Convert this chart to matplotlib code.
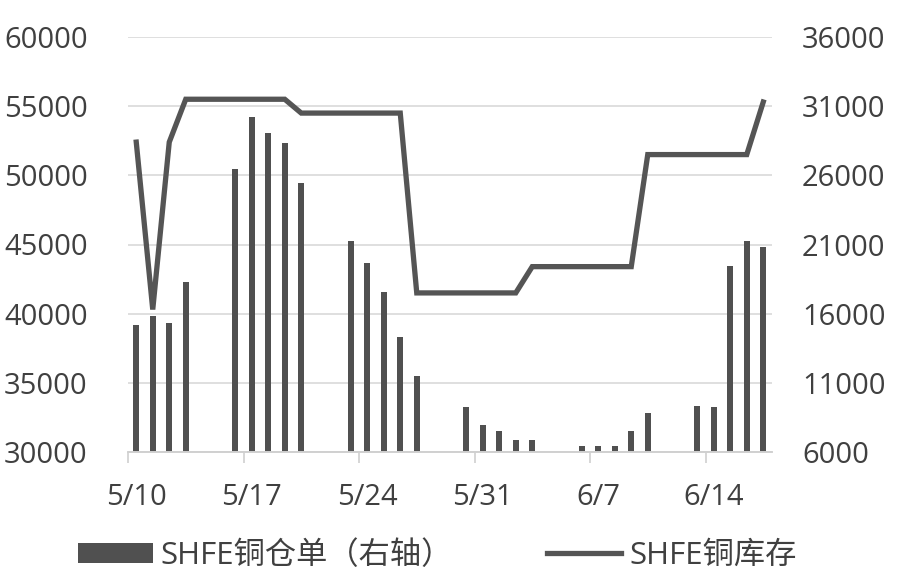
import matplotlib
matplotlib.use("Agg")
import matplotlib.pyplot as plt
from matplotlib.patches import Patch
from matplotlib.lines import Line2D
import pandas as pd

plt.rcParams['font.family'] = ['Open Sans', 'Noto Sans CJK SC', 'DejaVu Sans']

# trading days (2016)
dates = ["5/10", "5/11", "5/12", "5/13",
         "5/16", "5/17", "5/18", "5/19", "5/20",
         "5/23", "5/24", "5/25", "5/26", "5/27",
         "5/30", "5/31", "6/1", "6/2", "6/3",
         "6/6", "6/7", "6/8", "6/9", "6/10",
         "6/13", "6/14", "6/15", "6/16", "6/17"]

# SHFE铜仓单 (right axis)
cangdan = [15200, 15800, 15350, 18270,
           26460, 30240, 29040, 28360, 25420,
           21280, 19640, 17590, 14340, 11520,
           9230, 7950, 7540, 6870, 6870,
           6460, 6400, 6460, 7540, 8800,
           9350, 9230, 19450, 21280, 20800]

# SHFE铜库存 (left axis)
kucun = [52400, 40300, 52400, 55500,
         55500, 55500, 55500, 55500, 54500,
         54500, 54500, 54500, 54500, 41500,
         41500, 41500, 41500, 41500, 43400,
         43400, 43400, 43400, 43400, 51500,
         51500, 51500, 51500, 51500, 55300]

tick_labels = ["5/10", "5/17", "5/24", "5/31", "6/7", "6/14"]

dt = pd.to_datetime(["2016/" + d for d in dates])
start = dt[0]
x = [(d - start).days + 0.5 for d in dt]
tick_dt = pd.to_datetime(["2016/" + d for d in tick_labels])
tick_x = [(d - start).days for d in tick_dt]

fig = plt.figure(figsize=(9, 5.8), dpi=100)
ax = fig.add_axes([128 / 900, 1 - 452 / 580, 643.5 / 900, 415 / 580])
ax2 = ax.twinx()

txt = '#404040'
dark = '#505050'

ax2.bar(x, cangdan, width=0.36, color=dark, zorder=2)
ax2.set_ylim(6000, 36000)
ax2.set_yticks(range(6000, 36001, 5000))
ax2.grid(axis='y', color='#d9d9d9', linewidth=1.2, zorder=0)
ax2.set_axisbelow(True)

ax.plot(x, kucun, color='#555555', linewidth=3.8, solid_joinstyle='miter', zorder=3)
ax.set_ylim(30000, 60000)
ax.set_yticks(range(30000, 60001, 5000))
ax.set_zorder(ax2.get_zorder() + 1)
ax.patch.set_visible(False)

ax.set_xlim(0, 39)
ax.set_xticks([t + 0.5 for t in tick_x])
ax.set_xticklabels(tick_labels)
ax.set_xticks(tick_x, minor=True)
ax.tick_params(axis='x', which='major', length=0, pad=22, labelsize=21, labelcolor=txt)
ax.tick_params(axis='x', which='minor', length=8, color='#d0d0d0', width=1.2)
ax.tick_params(axis='y', length=0, pad=29, labelsize=21, labelcolor=txt)
ax2.tick_params(axis='y', length=0, pad=22, labelsize=21, labelcolor=txt)

for a in (ax, ax2):
    for s in ('top', 'left', 'right'):
        a.spines[s].set_visible(False)
    a.spines['bottom'].set_color('#d0d0d0')
    a.spines['bottom'].set_linewidth(1.2)

handles = [Patch(facecolor=dark, edgecolor='none'),
           Line2D([0], [0], color='#555555', linewidth=3.8)]
fig.legend(handles, ['SHFE铜仓单（右轴）', 'SHFE铜库存'],
           loc='center', bbox_to_anchor=(0.486, 1 - 556 / 580), ncol=2,
           frameon=False, fontsize=22.5, handlelength=2.37, handleheight=0.64,
           handletextpad=0.26, columnspacing=3.0, labelcolor=txt)

fig.savefig('out.png', dpi=100)
